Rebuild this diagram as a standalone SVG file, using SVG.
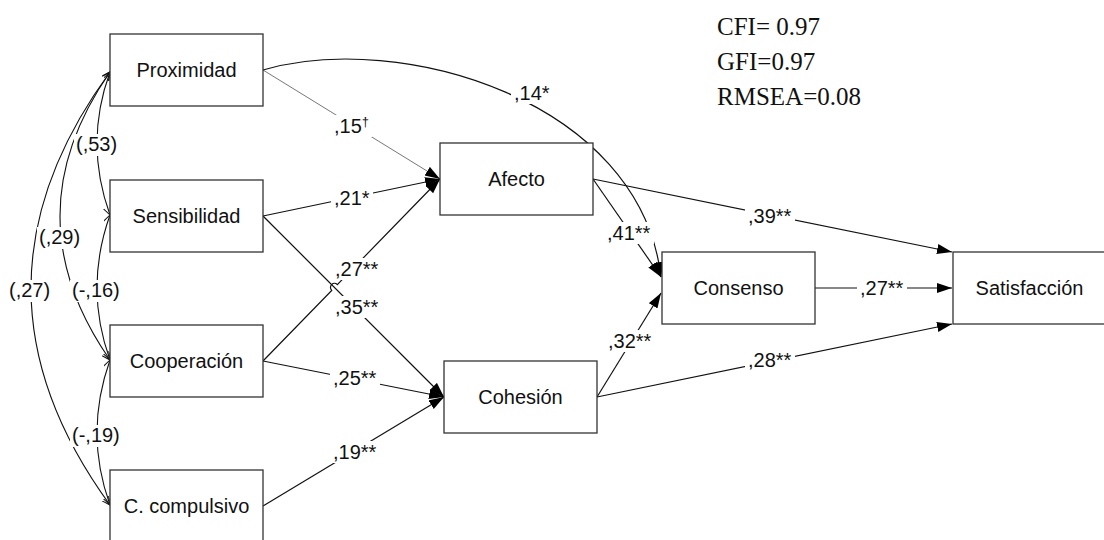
<svg xmlns="http://www.w3.org/2000/svg" width="1104" height="540" viewBox="0 0 1104 540">
  <style>
    .box { fill: #fff; stroke: #333; stroke-width: 1.3; }
    .node-label { font-family: "Liberation Sans", Arial, sans-serif; font-size: 20px; fill: #111; text-anchor: middle; }
    .edge { fill: none; stroke: #111; stroke-width: 1.2; }
    .weak { fill: none; stroke: #777; stroke-width: 1; }
    .corr { fill: none; stroke: #111; stroke-width: 1.1; }
    .lbl-bg { fill: #fff; stroke: none; }
    .lbl { font-family: "Liberation Sans", Arial, sans-serif; font-size: 20px; fill: #111; }
    .sup { font-size: 13px; }
    .fit { font-family: "Liberation Serif", "Times New Roman", serif; font-size: 25px; fill: #111; }
  </style>
  <defs>
    <marker id="arrow" markerUnits="userSpaceOnUse" markerWidth="16" markerHeight="12" refX="15" refY="5" orient="auto">
      <path d="M0,0 L15,5 L0,10 z" fill="#000"/>
    </marker>
    <marker id="open" markerUnits="userSpaceOnUse" markerWidth="10" markerHeight="10" refX="8" refY="4" orient="auto-start-reverse">
      <path d="M0,0 L8,4 L0,8" fill="none" stroke="#111" stroke-width="1"/>
    </marker>
  </defs>

  <!-- connectors -->
  <g id="connectors">
    <!-- correlations among predictors -->
    <path class="corr" d="M110,72 Q84,143 110,215" marker-start="url(#open)" marker-end="url(#open)"/>
    <path class="corr" d="M110,72 Q10,216 110,360" marker-start="url(#open)" marker-end="url(#open)"/>
    <path class="corr" d="M110,72 Q-48,288 110,505" marker-start="url(#open)" marker-end="url(#open)"/>
    <path class="corr" d="M110,215 Q84,288 110,360" marker-start="url(#open)" marker-end="url(#open)"/>
    <path class="corr" d="M110,360 Q84,433 110,505" marker-start="url(#open)" marker-end="url(#open)"/>

    <!-- paths to Afecto -->
    <line class="weak" x1="263" y1="70" x2="440" y2="179" marker-end="url(#arrow)"/>
    <line class="edge" x1="263" y1="216" x2="440" y2="179" marker-end="url(#arrow)"/>
    <path class="edge" d="M263,361 L331.7,290.4 A3,3 0 0 1 337.3,284.6 L440,179" marker-end="url(#arrow)"/>

    <!-- paths to Cohesión -->
    <line class="edge" x1="263" y1="216" x2="444" y2="397" marker-end="url(#arrow)"/>
    <line class="edge" x1="263" y1="361" x2="444" y2="397" marker-end="url(#arrow)"/>
    <line class="edge" x1="263" y1="506" x2="444" y2="397" marker-end="url(#arrow)"/>

    <!-- paths to Consenso -->
    <path class="edge" d="M263,70 C400,30 640,100 661,277" marker-end="url(#arrow)"/>
    <line class="edge" x1="593" y1="179" x2="661" y2="277" marker-end="url(#arrow)"/>
    <line class="edge" x1="597" y1="397" x2="661" y2="293" marker-end="url(#arrow)"/>

    <!-- paths to Satisfacción -->
    <line class="edge" x1="593" y1="179" x2="952" y2="252" marker-end="url(#arrow)"/>
    <line class="edge" x1="815" y1="288" x2="952" y2="288" marker-end="url(#arrow)"/>
    <line class="edge" x1="597" y1="397" x2="952" y2="324" marker-end="url(#arrow)"/>
  </g>

  <!-- coefficient labels -->
  <g id="edge-labels">
    <rect class="lbl-bg" x="74" y="134" width="46" height="22"/>
    <text class="lbl" x="76" y="151">(,53)</text>
    <rect class="lbl-bg" x="37" y="227" width="46" height="22"/>
    <text class="lbl" x="39" y="244">(,29)</text>
    <rect class="lbl-bg" x="7" y="280" width="46" height="22"/>
    <text class="lbl" x="9" y="297">(,27)</text>
    <rect class="lbl-bg" x="70" y="280" width="50" height="22"/>
    <text class="lbl" x="72" y="297">(-,16)</text>
    <rect class="lbl-bg" x="70" y="425" width="50" height="22"/>
    <text class="lbl" x="72" y="442">(-,19)</text>

    <rect class="lbl-bg" x="511" y="82" width="42" height="22"/>
    <text class="lbl" x="514" y="100">,14*</text>
    <rect class="lbl-bg" x="331" y="115" width="41" height="22"/>
    <text class="lbl" x="334" y="133">,15<tspan class="sup" dy="-7">†</tspan></text>
    <rect class="lbl-bg" x="331" y="187" width="42" height="22"/>
    <text class="lbl" x="334" y="205">,21*</text>
    <rect class="lbl-bg" x="332" y="258" width="50" height="22"/>
    <text class="lbl" x="335" y="276">,27**</text>
    <rect class="lbl-bg" x="332" y="296" width="50" height="22"/>
    <text class="lbl" x="335" y="314">,35**</text>
    <rect class="lbl-bg" x="330" y="367" width="50" height="22"/>
    <text class="lbl" x="333" y="385">,25**</text>
    <rect class="lbl-bg" x="330" y="441" width="50" height="22"/>
    <text class="lbl" x="333" y="459">,19**</text>
    <rect class="lbl-bg" x="604" y="222" width="50" height="22"/>
    <text class="lbl" x="607" y="240">,41**</text>
    <rect class="lbl-bg" x="745" y="205" width="50" height="22"/>
    <text class="lbl" x="748" y="223">,39**</text>
    <rect class="lbl-bg" x="857" y="277" width="50" height="22"/>
    <text class="lbl" x="860" y="295">,27**</text>
    <rect class="lbl-bg" x="605" y="330" width="50" height="22"/>
    <text class="lbl" x="608" y="348">,32**</text>
    <rect class="lbl-bg" x="745" y="349" width="50" height="22"/>
    <text class="lbl" x="748" y="367">,28**</text>
  </g>

  <!-- observed variables -->
  <g id="proximidad">
    <rect class="box" x="110" y="34" width="153" height="72"/>
    <text class="node-label" x="186.5" y="77">Proximidad</text>
  </g>
  <g id="sensibilidad">
    <rect class="box" x="110" y="180" width="153" height="72"/>
    <text class="node-label" x="186.5" y="223">Sensibilidad</text>
  </g>
  <g id="cooperacion">
    <rect class="box" x="110" y="325" width="153" height="72"/>
    <text class="node-label" x="186.5" y="368">Cooperación</text>
  </g>
  <g id="c-compulsivo">
    <rect class="box" x="110" y="470" width="153" height="72"/>
    <text class="node-label" x="186.5" y="513">C. compulsivo</text>
  </g>
  <g id="afecto">
    <rect class="box" x="440" y="143" width="153" height="72"/>
    <text class="node-label" x="516.5" y="186">Afecto</text>
  </g>
  <g id="cohesion">
    <rect class="box" x="444" y="361" width="153" height="72"/>
    <text class="node-label" x="520.5" y="404">Cohesión</text>
  </g>
  <g id="consenso">
    <rect class="box" x="662" y="252" width="153" height="72"/>
    <text class="node-label" x="738.5" y="295">Consenso</text>
  </g>
  <g id="satisfaccion">
    <rect class="box" x="953" y="252" width="153" height="72"/>
    <text class="node-label" x="1029.5" y="295">Satisfacción</text>
  </g>

  <!-- fit indices -->
  <g id="fit-indices">
    <text class="fit" x="717" y="35">CFI= 0.97</text>
    <text class="fit" x="717" y="70">GFI=0.97</text>
    <text class="fit" x="717" y="105">RMSEA=0.08</text>
  </g>
</svg>
